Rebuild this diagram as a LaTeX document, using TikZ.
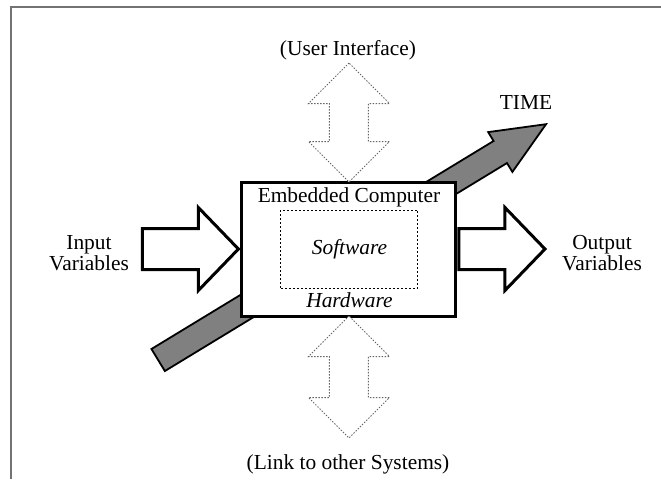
\documentclass[tikz,border=0pt]{standalone}
\usepackage{fontspec}
\setmainfont{Liberation Serif}
\usetikzlibrary{shapes.arrows, positioning}
\tikzset{
  font={\fontsize{10.7pt}{10.5pt}\selectfont},
  fatarrow/.style={shape=single arrow, draw, line width=1.5pt, fill=white,
    inner xsep=0pt, inner ysep=9.5pt, single arrow head extend=10.5pt,
    single arrow tip angle=92, minimum height=#1},
  linkarrow/.style={shape=double arrow, draw=black!60, line width=0.5pt,
    dash pattern=on 0.7pt off 0.8pt, fill=white, inner xsep=0pt, inner ysep=9.5pt,
    double arrow head extend=10.5pt, double arrow tip angle=90,
    minimum height=#1, rotate=90},
  timearrow/.style={shape=single arrow, draw, line width=0.9pt, fill=black!50,
    inner xsep=0pt, inner ysep=6pt, single arrow head extend=5.2pt,
    single arrow tip angle=47, minimum height=227pt, rotate=31.3}}

\begin{document}
\begin{tikzpicture}[x=0.5pt, y=-0.5pt]
  \useasboundingbox (0,0) rectangle (661,479);
  % frame of the page
  \coordinate (fa) at (11,479);
  \coordinate (fb) at (11,7);
  \coordinate (fc) at (661,7);
  \draw[black!55, line width=1pt] (fa) -- (fb) -- (fc);

  \node (time) [timearrow, anchor=tip] at (548,123) {};
  \node (timelbl) at (526,102) {TIME};

  \node (box) [draw, line width=1.5pt, fill=white, minimum width=107pt, minimum height=67pt] at (349,249) {};
  \node (title) at (349,197) {Embedded Computer};
  \node (soft) [draw, line width=0.5pt, dash pattern=on 1pt off 1pt, minimum width=68.5pt, minimum height=39pt] at (349.5,249) {\itshape Software};
  \node (hard) [below=-1.5pt of soft] {\itshape Hardware};

  \node (inarrow) [fatarrow=48pt, anchor=tip] at (box.west) {};
  \node (outarrow) [fatarrow=43pt, anchor=tail] at (box.east) {};
  \node (inlbl) [align=center] at (89,253) {Input\\Variables};
  \node (outlbl) [align=center] at (602,253) {Output\\Variables};

  \node (uiarrow) [linkarrow=59.5pt] at (349,122.5) {};
  \node (linkarrow) [linkarrow=61pt] at (349,377) {};
  \node (uilbl) at (348,50) {(User Interface)};
  \node (linklbl) at (348,464) {(Link to other Systems)};
\end{tikzpicture}
\end{document}
